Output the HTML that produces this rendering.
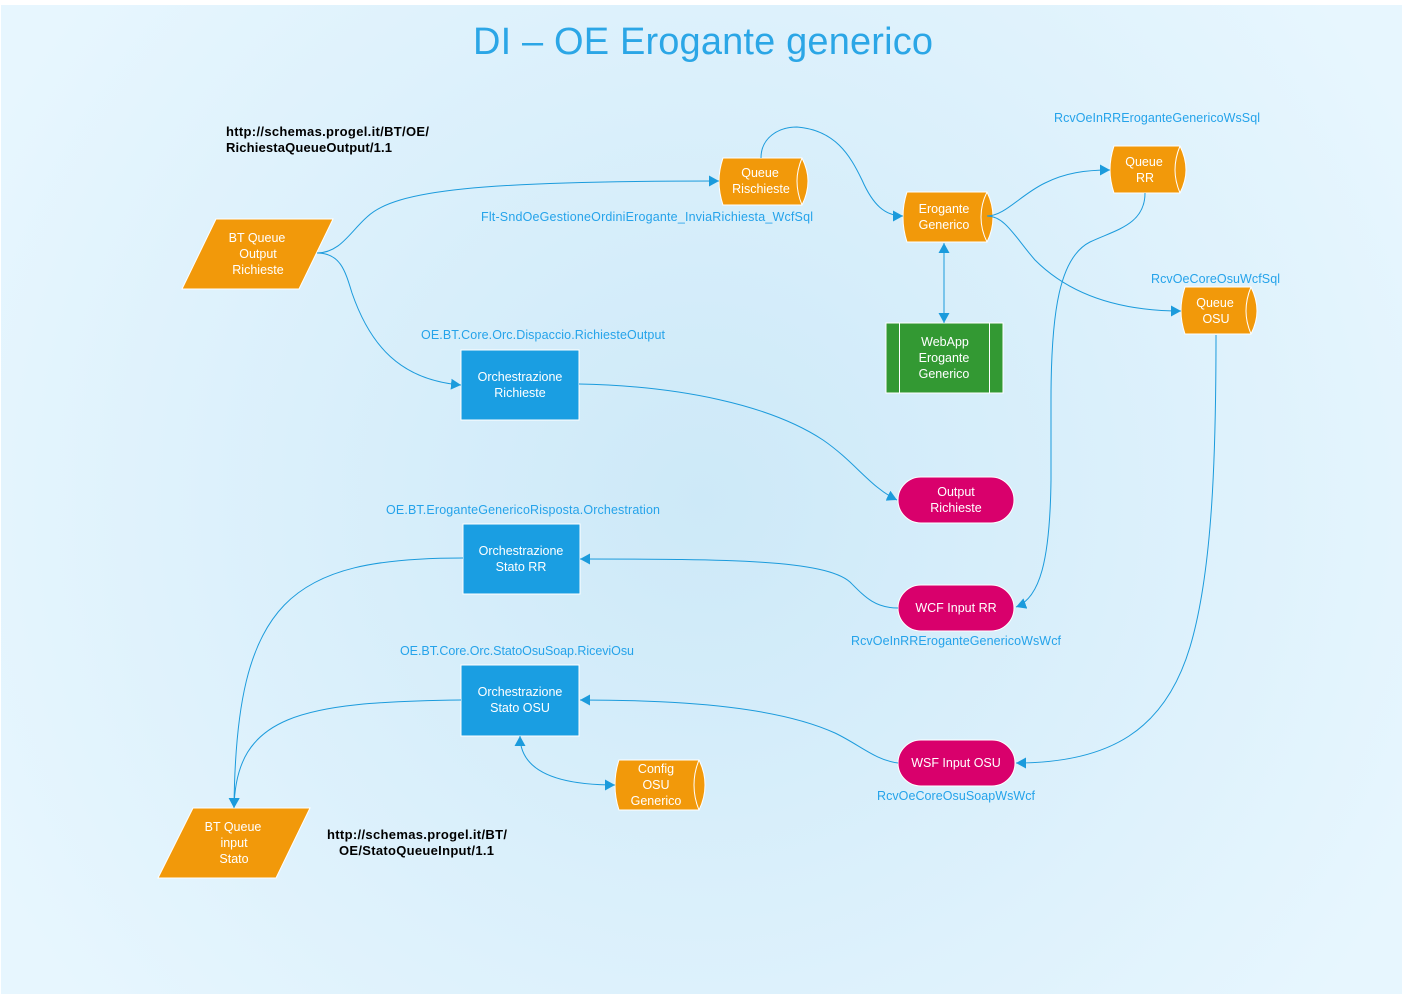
<!DOCTYPE html>
<html><head><meta charset="utf-8"><style>
html,body{margin:0;padding:0;background:#fff}
svg{display:block}
text{font-family:"Liberation Sans",sans-serif}
.w{fill:#fff;font-size:12.5px;text-anchor:middle}
.b{fill:#25a3ea;font-size:12.5px}
.k{fill:#000;font-size:13px;font-weight:bold}
.c{fill:none;stroke:#1b9bdc;stroke-width:1}
.s{stroke:#fff;stroke-width:1}
.o{fill:#f2990a}
.m{fill:#d9006c}
.l{fill:none;stroke:#fff;stroke-width:1}
</style></head><body>
<svg width="1403" height="996" viewBox="0 0 1403 996" xmlns="http://www.w3.org/2000/svg">
<defs>
<radialGradient id="g" gradientUnits="userSpaceOnUse" cx="701" cy="500" r="800">
<stop offset="0" stop-color="#cde9f8"/><stop offset="1" stop-color="#e7f6fe"/>
</radialGradient>
<marker id="a" markerUnits="userSpaceOnUse" markerWidth="11" markerHeight="11" refX="10" refY="5.500" orient="auto"><path d="M0 0L10 5.500L0 11Z" fill="#1b9bdc"/></marker>
<marker id="as" markerUnits="userSpaceOnUse" markerWidth="11" markerHeight="11" refX="10" refY="5.500" orient="auto-start-reverse"><path d="M0 0L10 5.500L0 11Z" fill="#1b9bdc"/></marker>
</defs>
<rect x="1" y="5" width="1401" height="989" fill="url(#g)"/>
<text x="473" y="54" font-size="38" fill="#2ba6e6" textLength="460" lengthAdjust="spacing">DI – OE Erogante generico</text>

<polygon class="o s" points="216,219 333,219 299,289 182,289"/>
<text class="w"><tspan x="257" y="242">BT Queue</tspan><tspan x="258" y="258">Output</tspan><tspan x="258" y="274">Richieste</tspan></text>

<polygon class="o s" points="193,808 310,808 276,878 158,878"/>
<text class="w"><tspan x="233" y="831">BT Queue</tspan><tspan x="234" y="847">input</tspan><tspan x="234" y="863">Stato</tspan></text>

<path class="o s" d="M723 158H802Q808 170 808 181Q808 193 802 205H723Q719 193 719 181Q719 170 723 158Z"/>
<path class="l" d="M802 158Q797 170 797 181Q797 193 802 205"/>
<text class="w"><tspan x="760" y="177">Queue</tspan><tspan x="761" y="193">Rischieste</tspan></text>

<path class="o s" d="M907 192H987Q993 204 993 217Q993 230 987 242H907Q903 230 903 217Q903 204 907 192Z"/>
<path class="l" d="M987 192Q981 204 981 217Q981 230 987 242"/>
<text class="w"><tspan x="944" y="213">Erogante</tspan><tspan x="944" y="229">Generico</tspan></text>

<path class="o s" d="M1114 146H1180Q1186 158 1186 170Q1186 181 1180 193H1114Q1110 181 1110 170Q1110 158 1114 146Z"/>
<path class="l" d="M1180 146Q1175 158 1175 170Q1175 181 1180 193"/>
<text class="w"><tspan x="1144" y="166">Queue</tspan><tspan x="1145" y="182">RR</tspan></text>

<path class="o s" d="M1185 287H1251Q1257 299 1257 311Q1257 322 1251 334H1185Q1181 322 1181 311Q1181 299 1185 287Z"/>
<path class="l" d="M1251 287Q1246 299 1246 311Q1246 322 1251 334"/>
<text class="w"><tspan x="1215" y="307">Queue</tspan><tspan x="1216" y="323">OSU</tspan></text>

<path class="o s" d="M619 760H699Q705 772 705 785Q705 798 699 810H619Q615 798 615 785Q615 772 619 760Z"/>
<path class="l" d="M699 760Q694 772 694 785Q694 798 699 810"/>
<text class="w"><tspan x="656" y="773">Config</tspan><tspan x="656" y="789">OSU</tspan><tspan x="656" y="805">Generico</tspan></text>

<rect x="886" y="323" width="117" height="70" fill="#339933" stroke="#fff"/>
<path class="l" d="M899.500 323V393M989.500 323V393"/>
<text class="w"><tspan x="945" y="346">WebApp</tspan><tspan x="944" y="362">Erogante</tspan><tspan x="944" y="378">Generico</tspan></text>

<rect x="461" y="350" width="118" height="70" fill="#1a9ee2" stroke="#fff"/>
<text class="w"><tspan x="520" y="381">Orchestrazione</tspan><tspan x="520" y="397">Richieste</tspan></text>
<rect x="463" y="524" width="117" height="70" fill="#1a9ee2" stroke="#fff"/>
<text class="w"><tspan x="521" y="555">Orchestrazione</tspan><tspan x="521" y="571">Stato RR</tspan></text>
<rect x="461" y="665" width="118" height="71" fill="#1a9ee2" stroke="#fff"/>
<text class="w"><tspan x="520" y="696">Orchestrazione</tspan><tspan x="520" y="712">Stato OSU</tspan></text>

<rect class="m s" x="898" y="477" width="116" height="46" rx="23"/>
<text class="w"><tspan x="956" y="496">Output</tspan><tspan x="956" y="512">Richieste</tspan></text>
<rect class="m s" x="898" y="585" width="116" height="46" rx="23"/>
<text class="w" x="956" y="612">WCF Input RR</text>
<rect class="m s" x="898" y="740" width="117" height="46" rx="23"/>
<text class="w" x="956" y="767">WSF Input OSU</text>

<path class="c" marker-end="url(#a)" d="M317 253C340 253 350 232 367 217C395 190 480 181 719 181"/>
<path class="c" marker-end="url(#a)" d="M317 253C340 253 345 270 352 293C370 345 400 380 461 385"/>
<path class="c" marker-end="url(#a)" d="M761 158C761 138 778 127 797 127C835 130 850 155 862 180C873 205 885 216 903 216"/>
<path class="c" marker-end="url(#a)" d="M987 216C1005 216 1020 195 1045 183C1065 173 1085 170 1110 170"/>
<path class="c" marker-end="url(#a)" d="M987 216C1005 216 1015 237 1035 260C1070 295 1120 311 1181 311"/>
<path class="c" marker-start="url(#as)" marker-end="url(#as)" d="M944 243L944 323"/>
<path class="c" marker-end="url(#a)" d="M579 384C680 386 770 405 823 440C855 462 870 487 897 500"/>
<path class="c" marker-end="url(#a)" d="M1145 193C1145 225 1115 230 1090 242C1060 257 1051 310 1051 400L1051 480C1050 560 1040 598 1016 607"/>
<path class="c" marker-end="url(#a)" d="M1216 335C1216 450 1213 570 1190 647C1165 730 1110 763 1016 763"/>
<path class="c" marker-end="url(#a)" d="M898 608C875 608 865 597 850 582C825 560 730 559 580 559"/>
<path class="c" marker-end="url(#a)" d="M898 763C875 760 860 745 835 733C780 708 690 700 580 700"/>
<path class="c" marker-end="url(#a)" d="M463 558C290 558 236 600 234 808"/>
<path class="c" marker-end="url(#a)" d="M461 700C300 702 236 715 234 808"/>
<path class="c" marker-start="url(#as)" marker-end="url(#as)" d="M520 736C520 765 545 785 615 785"/>

<text class="b" x="1054" y="122" textLength="206">RcvOeInRREroganteGenericoWsSql</text>
<text class="b" x="1151" y="283" textLength="129">RcvOeCoreOsuWcfSql</text>
<text class="b" x="481" y="221" textLength="332">Flt-SndOeGestioneOrdiniErogante_InviaRichiesta_WcfSql</text>
<text class="b" x="421" y="339" textLength="244">OE.BT.Core.Orc.Dispaccio.RichiesteOutput</text>
<text class="b" x="386" y="514" textLength="274">OE.BT.EroganteGenericoRisposta.Orchestration</text>
<text class="b" x="400" y="655" textLength="234">OE.BT.Core.Orc.StatoOsuSoap.RiceviOsu</text>
<text class="b" x="851" y="645" textLength="210">RcvOeInRREroganteGenericoWsWcf</text>
<text class="b" x="877" y="800" textLength="158">RcvOeCoreOsuSoapWsWcf</text>

<text class="k" x="226" y="136" textLength="203">http://schemas.progel.it/BT/OE/</text>
<text class="k" x="226" y="152" textLength="166">RichiestaQueueOutput/1.1</text>
<text class="k" x="327" y="839" textLength="180">http://schemas.progel.it/BT/</text>
<text class="k" x="339" y="855" textLength="155">OE/StatoQueueInput/1.1</text>
</svg>
</body></html>
